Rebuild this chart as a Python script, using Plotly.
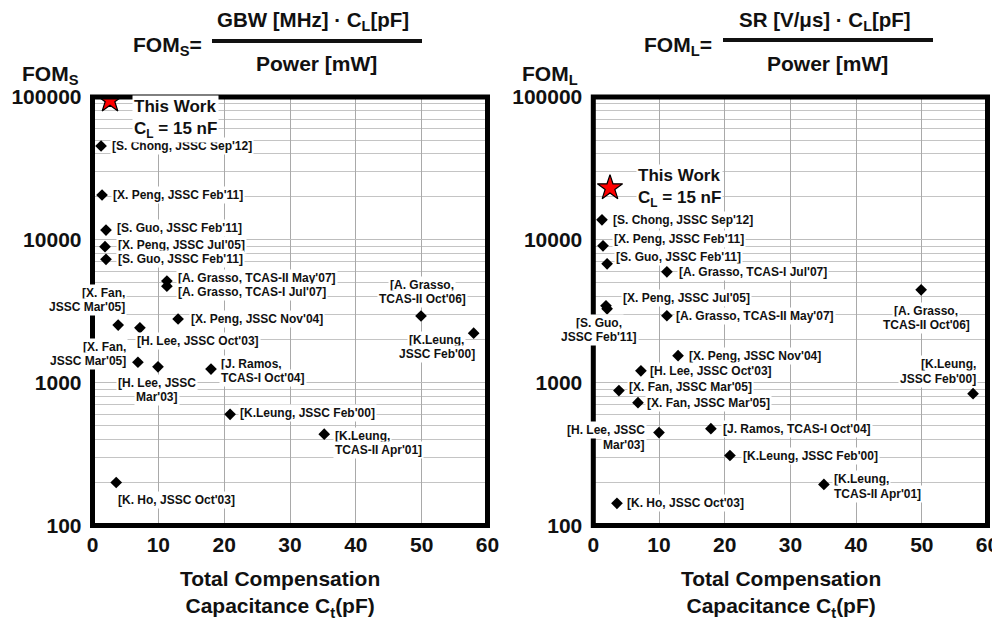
import math
import plotly.graph_objects as go

# ---------------- data ----------------
# Left panel: FOM_S vs total compensation capacitance
fs_x = [1.3, 1.45, 2.05, 1.9, 2.05, 11.3, 11.3, 13.0, 3.9, 7.2, 49.9, 57.9, 6.9, 9.95, 18.0, 20.9, 35.2, 3.6]
fs_y = [45400, 20600, 11700, 8960, 7300, 5140, 4740, 2790, 2530, 2420, 2930, 2220, 1390, 1290, 1245, 600, 436, 200]
fs_labels = ["[S. Chong, JSSC Sep'12]", "[X. Peng, JSSC Feb'11]", "[S. Guo, JSSC Feb'11]",
             "[X. Peng, JSSC Jul'05]", "[S. Guo, JSSC Feb'11]", "[A. Grasso, TCAS-II May'07]",
             "[A. Grasso, TCAS-I Jul'07]", "[X. Peng, JSSC Nov'04]", "[X. Fan,<br>JSSC Mar'05]",
             "[H. Lee, JSSC Oct'03]", "[A. Grasso,<br>TCAS-II Oct'06]", "[K.Leung,<br>JSSC Feb'00]",
             "[X. Fan,<br>JSSC Mar'05]", "[H. Lee, JSSC<br>Mar'03]", "[J. Ramos,<br>TCAS-I Oct'04]",
             "[K.Leung, JSSC Feb'00]", "[K.Leung,<br>TCAS-II Apr'01]", "[K. Ho, JSSC Oct'03]"]
fs_this_x = [2.66]
fs_this_y = [95000]

# Right panel: FOM_L vs total compensation capacitance
fl_x = [1.32, 1.48, 2.1, 11.2, 1.93, 2.1, 11.2, 49.9, 12.9, 7.25, 3.9, 6.8, 57.8, 10.0, 17.9, 20.8, 35.1, 3.6]
fl_y = [13800, 9080, 6790, 5970, 3450, 3290, 2940, 4470, 1545, 1210, 880, 724, 838, 447, 476, 309, 194, 143]
fl_labels = ["[S. Chong, JSSC Sep'12]", "[X. Peng, JSSC Feb'11]", "[S. Guo, JSSC Feb'11]",
             "[A. Grasso, TCAS-I Jul'07]", "[X. Peng, JSSC Jul'05]", "[S. Guo,<br>JSSC Feb'11]",
             "[A. Grasso, TCAS-II May'07]", "[A. Grasso,<br>TCAS-II Oct'06]", "[X. Peng, JSSC Nov'04]",
             "[H. Lee, JSSC Oct'03]", "[X. Fan, JSSC Mar'05]", "[X. Fan, JSSC Mar'05]",
             "[K.Leung,<br>JSSC Feb'00]", "[H. Lee, JSSC<br>Mar'03]", "[J. Ramos, TCAS-I Oct'04]",
             "[K.Leung, JSSC Feb'00]", "[K.Leung,<br>TCAS-II Apr'01]", "[K. Ho, JSSC Oct'03]"]
fl_this_x = [2.54]
fl_this_y = [23100]

x_ticks = [0, 10, 20, 30, 40, 50, 60]
y_ticks = [100, 1000, 10000, 100000]
y_ticktext = ["100", "1000", "10000", "100000"]

# ---------------- label placement (style: anchor, dx px, dy px down of block centre) ----------------
fs_place = [("left", 9, 0), ("left", 9, 0), ("left", 9, -2),
            ("left", 11, -2), ("left", 10, 0), ("left", 9, -3),
            ("left", 9, 6), ("left", 11, 0), ("right", 9, -25),
            ("left", -5, 13), ("center", 1, -24), ("center", -37, 14),
            ("right", -10, -8), ("center", -1, 23), ("left", 8, 2),
            ("left", 8, -1), ("left", 9, 9), ("left", 0, 17)]
fl_place = [("left", 9, 0), ("left", 9, -7), ("left", 7, -7),
            ("left", 10, 0), ("left", 15, -8), ("center", -8, 21),
            ("left", 7, 0), ("center", 5, 28), ("left", 9, 0),
            ("left", 7, 0), ("left", 8, -4), ("left", 7, 0),
            ("right", 5, -22), ("right", -12, 5), ("left", 10, 0),
            ("left", 11, 0), ("left", 8, 2), ("left", 8, 0)]
LINE_H = 14.5

FONT = "Liberation Sans, Arial, sans-serif"
# page body has an 8px margin, so the figure starts 8px in from the window corner
OFF = 8
W, H = 1000 - OFF, 620 - OFF


def px_x(p):
    return (p - OFF) / W


def px_y(p):
    return 1 - (p - OFF) / H


fig = go.Figure()

for xs, ys, xa, ya in [(fs_x, fs_y, "x", "y"), (fl_x, fl_y, "x2", "y2")]:
    fig.add_trace(go.Scatter(x=xs, y=ys, mode="markers", xaxis=xa, yaxis=ya,
                             marker=dict(symbol="diamond", size=9, color="black",
                                         line=dict(width=0)),
                             hoverinfo="skip", showlegend=False))
for xs, ys, xa, ya in [(fs_this_x, fs_this_y, "x", "y"), (fl_this_x, fl_this_y, "x2", "y2")]:
    fig.add_trace(go.Scatter(x=xs, y=ys, mode="markers", xaxis=xa, yaxis=ya,
                             marker=dict(symbol="star", size=19, color="#ff0000",
                                         line=dict(width=1.2, color="black")),
                             hoverinfo="skip", showlegend=False))

annotations = []
# (annotations on log axes take log10 of the data value); each text line gets its own white box
for xs, ys, labels, place, xa, ya in [(fs_x, fs_y, fs_labels, fs_place, "x", "y"),
                                      (fl_x, fl_y, fl_labels, fl_place, "x2", "y2")]:
    for xv, yv, lab, (anc, dx, dy) in zip(xs, ys, labels, place):
        lines = lab.split("<br>")
        n = len(lines)
        for i, line in enumerate(lines):
            ldy = dy + (i - (n - 1) / 2) * LINE_H
            annotations.append(dict(x=xv, y=math.log10(yv), xref=xa, yref=ya, text=line,
                                    showarrow=False, xanchor=anc, yanchor="middle",
                                    xshift=dx, yshift=-ldy, bgcolor="white", borderpad=1,
                                    font=dict(family=FONT, size=12, color="#111",
                                              weight="bold")))

# "This Work" labels
for xs, ys, xa, ya, dx, dy in [(fs_this_x, fs_this_y, "x", "y", 22, 19),
                               (fl_this_x, fl_this_y, "x2", "y2", 26, 0)]:
    annotations.append(dict(x=xs[0], y=math.log10(ys[0]), xref=xa, yref=ya,
                            text="This Work<br>C<sub>L</sub> = 15 nF", showarrow=False,
                            xanchor="left", yanchor="middle", align="left",
                            xshift=dx, yshift=-dy, bgcolor="white", borderpad=1,
                            font=dict(family=FONT, size=17, color="#111", weight="bold")))

# formulas and titles (paper coordinates)
big = dict(family=FONT, size=21, color="#111", weight="bold")
num = dict(family=FONT, size=20.5, color="#111", weight="bold")
annotations += [
    dict(x=px_x(204), y=px_y(46), xref="paper", yref="paper", text="FOM<sub>S</sub>=",
         showarrow=False, xanchor="right", yanchor="middle", font=big),
    dict(x=px_x(313), y=px_y(21), xref="paper", yref="paper",
         text="GBW [MHz] · C<sub>L</sub>[pF]", showarrow=False, xanchor="center",
         yanchor="middle", font=num),
    dict(x=px_x(316), y=px_y(63), xref="paper", yref="paper", text="Power [mW]",
         showarrow=False, xanchor="center", yanchor="middle", font=big),
    dict(x=px_x(714), y=px_y(46), xref="paper", yref="paper", text="FOM<sub>L</sub>=",
         showarrow=False, xanchor="right", yanchor="middle", font=big),
    dict(x=px_x(825), y=px_y(21), xref="paper", yref="paper",
         text="SR [V/μs] · C<sub>L</sub>[pF]", showarrow=False, xanchor="center",
         yanchor="middle", font=num),
    dict(x=px_x(827), y=px_y(63), xref="paper", yref="paper", text="Power [mW]",
         showarrow=False, xanchor="center", yanchor="middle", font=big),
    dict(x=px_x(20), y=px_y(75), xref="paper", yref="paper", text="FOM<sub>S</sub>",
         showarrow=False, xanchor="left", yanchor="middle", font=big),
    dict(x=px_x(520), y=px_y(75), xref="paper", yref="paper", text="FOM<sub>L</sub>",
         showarrow=False, xanchor="left", yanchor="middle", font=big),
    dict(x=px_x(280), y=px_y(594), xref="paper", yref="paper",
         text="Total Compensation<br>Capacitance C<sub>t</sub>(pF)", showarrow=False,
         xanchor="center", yanchor="middle", font=big),
    dict(x=px_x(781), y=px_y(594), xref="paper", yref="paper",
         text="Total Compensation<br>Capacitance C<sub>t</sub>(pF)", showarrow=False,
         xanchor="center", yanchor="middle", font=big),
]

shapes = [
    dict(type="line", xref="paper", yref="paper", x0=px_x(212), x1=px_x(422),
         y0=px_y(41), y1=px_y(41), line=dict(color="#111", width=4)),
    dict(type="line", xref="paper", yref="paper", x0=px_x(723), x1=px_x(933),
         y0=px_y(40), y1=px_y(40), line=dict(color="#111", width=4)),
    dict(type="rect", xref="x domain", yref="y domain", x0=0, x1=1, y0=0, y1=1,
         line=dict(color="black", width=5), layer="above"),
    dict(type="rect", xref="x2 domain", yref="y2 domain", x0=0, x1=1, y0=0, y1=1,
         line=dict(color="black", width=5), layer="above"),
]

minor_vals = [m * 10 ** e for e in (2, 3, 4) for m in range(2, 10)]

xcommon = dict(range=[0, 60], tickvals=x_ticks, showgrid=True, gridcolor="#a9a9a9",
               gridwidth=1, zeroline=False, showline=False, ticks="",
               ticklabelstandoff=4, tickfont=big, fixedrange=True, automargin=False)
ycommon = dict(type="log", range=[2, 5], tickvals=y_ticks, ticktext=y_ticktext,
               showgrid=True, gridcolor="#bdbdbd", gridwidth=1, zeroline=False,
               showline=False, ticks="", ticklabelstandoff=10, tickfont=big,
               minor=dict(tickvals=minor_vals, showgrid=True, gridcolor="#c4c4c4",
                          gridwidth=1, ticks=""),
               fixedrange=True, automargin=False)

y_dom = [px_y(525.5), px_y(97)]
fig.update_layout(
    width=W, height=H,
    margin=dict(l=0, r=0, t=0, b=0, pad=0, autoexpand=False),
    paper_bgcolor="white", plot_bgcolor="white",
    xaxis=dict(domain=[px_x(92.5), px_x(487.5)], anchor="y", **xcommon),
    yaxis=dict(domain=y_dom, anchor="x", **ycommon),
    xaxis2=dict(domain=[px_x(593.3), px_x(987.5)], anchor="y2", **xcommon),
    yaxis2=dict(domain=y_dom, anchor="x2", **ycommon),
    annotations=annotations,
    shapes=shapes,
    showlegend=False,
)

fig.write_html("out.html")
